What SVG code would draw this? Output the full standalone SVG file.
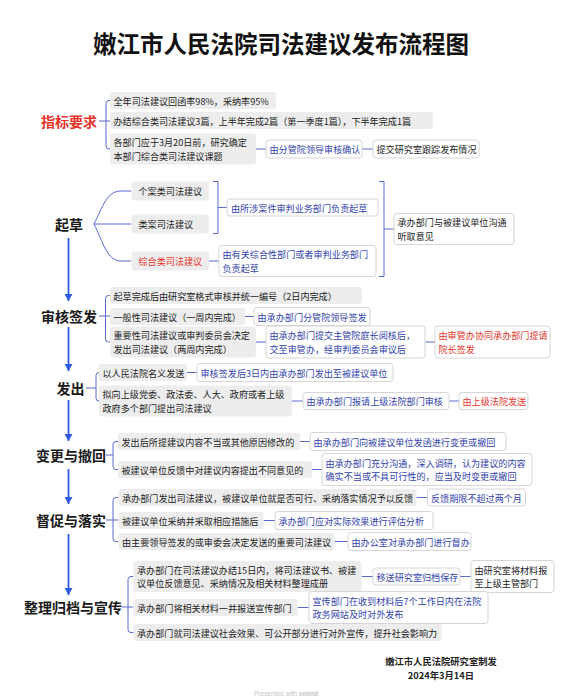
<svg xmlns="http://www.w3.org/2000/svg" width="570" height="700" viewBox="0 0 570 700">
<defs>
<style>
text{font-family:"Noto Sans CJK SC","Noto Sans",sans-serif;dominant-baseline:central}
.t{font-size:9.1px;fill:#222}
.bl{fill:#3343aa}
.rd{fill:#e5352b}
.h{font-size:14px;font-weight:bold;fill:#1a1a1a}
.hr{fill:#e5352b}
.g{fill:#ededed}
.w{fill:#fff;stroke:#d6d6d6;stroke-width:1}
.c{fill:none;stroke:#5a69cf;stroke-width:1}
.a{fill:none;stroke:#2f5be8;stroke-width:1.8}
</style>
<marker id="ah" markerUnits="userSpaceOnUse" markerWidth="7" markerHeight="8" viewBox="0 0 7 8" refX="7" refY="4" orient="auto">
<path d="M0 0 L7 4 L0 8 z" fill="#2f5be8"/>
</marker>
</defs>
<rect width="570" height="700" fill="#fff"/>
<text x="281" y="43" text-anchor="middle" style="font-size:23.5px;font-weight:bold;fill:#111">嫩江市人民法院司法建议发布流程图</text>

<g id="connectors">
<path class="c" d="M99 121 H110"/>
<path class="c" d="M110 100.5 H109 Q106 100.5 106 103.5 V146 Q106 149 109 149 H110"/>
<path class="c" d="M256 149 H266 M362 149 H373"/>
<path class="c" d="M94 224 C103 206 107 191 121 191 H131.5"/>
<path class="c" d="M94 224 H131.5"/>
<path class="c" d="M94 224 C103 242 107 261 121 261 H131.5"/>
<path class="c" d="M213 181.5 H218 V233.5 H213 M218 207.5 H227"/>
<path class="c" d="M209 261 H219"/>
<path class="c" d="M379 181.5 H384 V276.5 H379 M384 229 H394"/>
<path class="c" d="M99 316 H110"/>
<path class="c" d="M110 295.5 H108.5 Q105.5 295.5 105.5 298.5 V339 Q105.5 342 108.5 342 H110"/>
<path class="c" d="M245 316.5 H254 M256 342 H266 M425 342 H435"/>
<path class="c" d="M86 388 H96"/>
<path class="c" d="M99 372.5 Q96 372.5 96 375.5 V398 Q96 401 99 401"/>
<path class="c" d="M187 372.5 H197 M292 401 H303 M449 401 H459"/>
<path class="c" d="M106 455 H113"/>
<path class="c" d="M118 441.5 H116 Q113 441.5 113 444.5 V466.5 Q113 469.5 116 469.5 H118"/>
<path class="c" d="M300 441.5 H310 M312 469.5 H322"/>
<path class="c" d="M106 520 H118.5"/>
<path class="c" d="M118.5 497.5 H116 Q113 497.5 113 500.5 V538.5 Q113 541.5 116 541.5 H118.5"/>
<path class="c" d="M416.5 497.5 H427.5 M263.5 520.5 H275 M334.5 541.5 H348"/>
<path class="c" d="M122 607 H133.5"/>
<path class="c" d="M133.5 576.5 H131 Q128 576.5 128 579.5 V629.5 Q128 632.5 131 632.5 H133.5"/>
<path class="c" d="M361.5 576.5 H373 M460 576.5 H471 M297.5 607.5 H309"/>
<path class="a" d="M68.5 238 V301" marker-end="url(#ah)"/>
<path class="a" d="M68.5 327 V371" marker-end="url(#ah)"/>
<path class="a" d="M68.5 400 V441" marker-end="url(#ah)"/>
<path class="a" d="M68.5 469 V504" marker-end="url(#ah)"/>
<path class="a" d="M68.5 534 V595" marker-end="url(#ah)"/>
</g>

<g id="n-zhibiao"><text class="h hr" x="41" y="121">指标要求</text></g>
<g id="n-zb1"><rect class="g" x="110" y="92" width="166" height="17" rx="3"/><text class="t" x="113.5" y="100.5">全年司法建议回函率98%，采纳率95%</text></g>
<g id="n-zb2"><rect class="g" x="110" y="112" width="323" height="17" rx="3"/><text class="t" x="113.5" y="120.5">办结综合类司法建议3篇，上半年完成2篇（第一季度1篇），下半年完成1篇</text></g>
<g id="n-zb3"><rect class="g" x="110" y="133.5" width="146" height="31" rx="3"/><text class="t" x="113.5" y="142.3">各部门应于3月20日前，研究确定</text><text class="t" x="113.5" y="155.7">本部门综合类司法建议课题</text></g>
<g id="n-zb4"><rect class="w" x="266" y="140" width="96" height="18" rx="3"/><text class="t bl" x="269.5" y="149">由分管院领导审核确认</text></g>
<g id="n-zb5"><rect class="w" x="373" y="140" width="106" height="18" rx="3"/><text class="t" x="376.5" y="149">提交研究室跟踪发布情况</text></g>

<g id="n-qicao"><text class="h" x="55" y="224">起草</text></g>
<g id="n-qc1"><rect class="g" x="131.5" y="181.5" width="77.5" height="19" rx="3"/><text class="t" x="138.5" y="191">个案类司法建议</text></g>
<g id="n-qc2"><rect class="g" x="131.5" y="214.5" width="77.5" height="19" rx="3"/><text class="t" x="138.5" y="224">类案司法建议</text></g>
<g id="n-qc3"><rect class="g" x="131.5" y="251.5" width="77.5" height="19" rx="3"/><text class="t rd" x="138.5" y="261">综合类司法建议</text></g>
<g id="n-qc4"><rect class="w" x="227" y="199" width="151" height="17" rx="3"/><text class="t bl" x="231" y="207.5">由所涉案件审判业务部门负责起草</text></g>
<g id="n-qc5"><rect class="w" x="219" y="245.5" width="157" height="31" rx="3"/><text class="t bl" x="222.5" y="254.3">由有关综合性部门或者审判业务部门</text><text class="t bl" x="222.5" y="267.7">负责起草</text></g>
<g id="n-qc6"><rect class="w" x="394" y="213.5" width="120" height="31" rx="3"/><text class="t" x="397.5" y="222.3">承办部门与被建议单位沟通</text><text class="t" x="397.5" y="235.7">听取意见</text></g>

<g id="n-shenhe"><text class="h" x="41" y="316">审核签发</text></g>
<g id="n-sh1"><rect class="g" x="110" y="287" width="252" height="17" rx="3"/><text class="t" x="113.5" y="295.5">起草完成后由研究室格式审核并统一编号（2日内完成）</text></g>
<g id="n-sh2"><rect class="g" x="110" y="308" width="135" height="17" rx="3"/><text class="t" x="113.5" y="316.5">一般性司法建议（一周内完成）</text></g>
<g id="n-sh3"><rect class="w" x="254" y="307.5" width="116" height="18" rx="3"/><text class="t bl" x="257.5" y="316.5">由承办部门分管院领导签发</text></g>
<g id="n-sh4"><rect class="g" x="110" y="326.5" width="146" height="31" rx="3"/><text class="t" x="113.5" y="335.3">重要性司法建议或审判委员会决定</text><text class="t" x="113.5" y="348.7">发出司法建议（两周内完成）</text></g>
<g id="n-sh5"><rect class="w" x="266" y="326" width="159" height="32" rx="3"/><text class="t bl" x="269.5" y="335.3">由承办部门提交主管院庭长阅核后，</text><text class="t bl" x="269.5" y="348.7">交至审管办，经审判委员会审议后</text></g>
<g id="n-sh6"><rect class="w" x="435" y="326" width="115" height="32" rx="3"/><text class="t rd" x="438.5" y="335.3">由审管办协同承办部门提请</text><text class="t rd" x="438.5" y="348.7">院长签发</text></g>

<g id="n-fachu"><text class="h" x="56.5" y="388">发出</text></g>
<g id="n-fc1"><rect class="g" x="99" y="364" width="88" height="17" rx="3"/><text class="t" x="102.5" y="372.5">以人民法院名义发送</text></g>
<g id="n-fc2"><rect class="w" x="197" y="363.5" width="196" height="18" rx="3"/><text class="t bl" x="200.5" y="372.5">审核签发后3日内由承办部门发出至被建议单位</text></g>
<g id="n-fc3"><rect class="g" x="99" y="385.5" width="193" height="31" rx="3"/><text class="t" x="102.5" y="394.3">拟向上级党委、政法委、人大、政府或者上级</text><text class="t" x="102.5" y="407.7">政府多个部门提出司法建议</text></g>
<g id="n-fc4"><rect class="w" x="303" y="392.5" width="146" height="17" rx="3"/><text class="t bl" x="306.5" y="401">由承办部门报请上级法院部门审核</text></g>
<g id="n-fc5"><rect class="w" x="459" y="392.5" width="69" height="17" rx="3"/><text class="t rd" x="462.5" y="401">由上级法院发送</text></g>

<g id="n-biangeng"><text class="h" x="36" y="455">变更与撤回</text></g>
<g id="n-bg1"><rect class="g" x="118" y="433" width="182" height="17" rx="3"/><text class="t" x="121.5" y="441.5">发出后所提建议内容不当或其他原因修改的</text></g>
<g id="n-bg2"><rect class="w" x="310" y="432.5" width="196" height="18" rx="3"/><text class="t bl" x="313.5" y="441.5">由承办部门向被建议单位发函进行变更或撤回</text></g>
<g id="n-bg3"><rect class="g" x="118" y="461" width="194" height="17" rx="3"/><text class="t" x="121.5" y="469.5">被建议单位反馈中对建议内容提出不同意见的</text></g>
<g id="n-bg4"><rect class="w" x="322" y="453.5" width="210" height="32" rx="3"/><text class="t bl" x="325.5" y="462.8">由承办部门充分沟通，深入调研，认为建议的内容</text><text class="t bl" x="325.5" y="476.2">确实不当或不具可行性的，应当及时变更或撤回</text></g>

<g id="n-ducu"><text class="h" x="36" y="520">督促与落实</text></g>
<g id="n-dc1"><rect class="g" x="118.5" y="489" width="298" height="17" rx="3"/><text class="t" x="122" y="497.5">承办部门发出司法建议，被建议单位就是否可行、采纳落实情况予以反馈</text></g>
<g id="n-dc2"><rect class="w" x="427.5" y="489" width="98" height="17" rx="3"/><text class="t bl" x="431" y="497.5">反馈期限不超过两个月</text></g>
<g id="n-dc3"><rect class="g" x="118.5" y="512" width="145" height="17" rx="3"/><text class="t" x="122" y="520.5">被建议单位采纳并采取相应措施后</text></g>
<g id="n-dc4"><rect class="w" x="275" y="511.5" width="158" height="18" rx="3"/><text class="t bl" x="278.5" y="520.5">承办部门应对实际效果进行评估分析</text></g>
<g id="n-dc5"><rect class="g" x="118.5" y="533" width="216" height="17" rx="3"/><text class="t" x="122" y="541.5">由主要领导签发的或审委会决定发送的重要司法建议</text></g>
<g id="n-dc6"><rect class="w" x="348" y="532.5" width="123" height="18" rx="3"/><text class="t bl" x="351.5" y="541.5">由办公室对承办部门进行督办</text></g>

<g id="n-zhengli"><text class="h" x="24" y="607">整理归档与宣传</text></g>
<g id="n-zl1"><rect class="g" x="133.5" y="561" width="228" height="31" rx="3"/><text class="t" x="137" y="569.8">承办部门在司法建议办结15日内，将司法建议书、被建</text><text class="t" x="137" y="583.2">议单位反馈意见、采纳情况及相关材料整理成册</text></g>
<g id="n-zl2"><rect class="w" x="373" y="568" width="87" height="17" rx="3"/><text class="t bl" x="376.5" y="576.5">移送研究室归档保存</text></g>
<g id="n-zl3"><rect class="w" x="471" y="560.5" width="83" height="32" rx="3"/><text class="t" x="474.5" y="569.8">由研究室将材料报</text><text class="t" x="474.5" y="583.2">至上级主管部门</text></g>
<g id="n-zl4"><rect class="g" x="133.5" y="599" width="164" height="17" rx="3"/><text class="t" x="137" y="607.5">承办部门将相关材料一并报送宣传部门</text></g>
<g id="n-zl5"><rect class="w" x="309" y="591.5" width="179" height="32" rx="3"/><text class="t bl" x="312.5" y="600.8">宣传部门在收到材料后7个工作日内在法院</text><text class="t bl" x="312.5" y="614.2">政务网站及时对外发布</text></g>
<g id="n-zl6"><rect class="g" x="133.5" y="624" width="308" height="17" rx="3"/><text class="t" x="137" y="632.5">承办部门就司法建议社会效果、可公开部分进行对外宣传，提升社会影响力</text></g>

<g id="footer">
<text x="441" y="661" text-anchor="middle" style="font-size:9.3px;font-weight:bold;fill:#222">嫩江市人民法院研究室制发</text>
<text x="441" y="675" text-anchor="middle" style="font-size:9.3px;font-weight:bold;fill:#222">2024年3月14日</text>
<text x="286" y="693" text-anchor="middle" style="font-size:6.5px;fill:#c4c4c4;font-family:'Liberation Sans',sans-serif">Presented with <tspan font-weight="bold">xmind</tspan></text>
</g>
</svg>
